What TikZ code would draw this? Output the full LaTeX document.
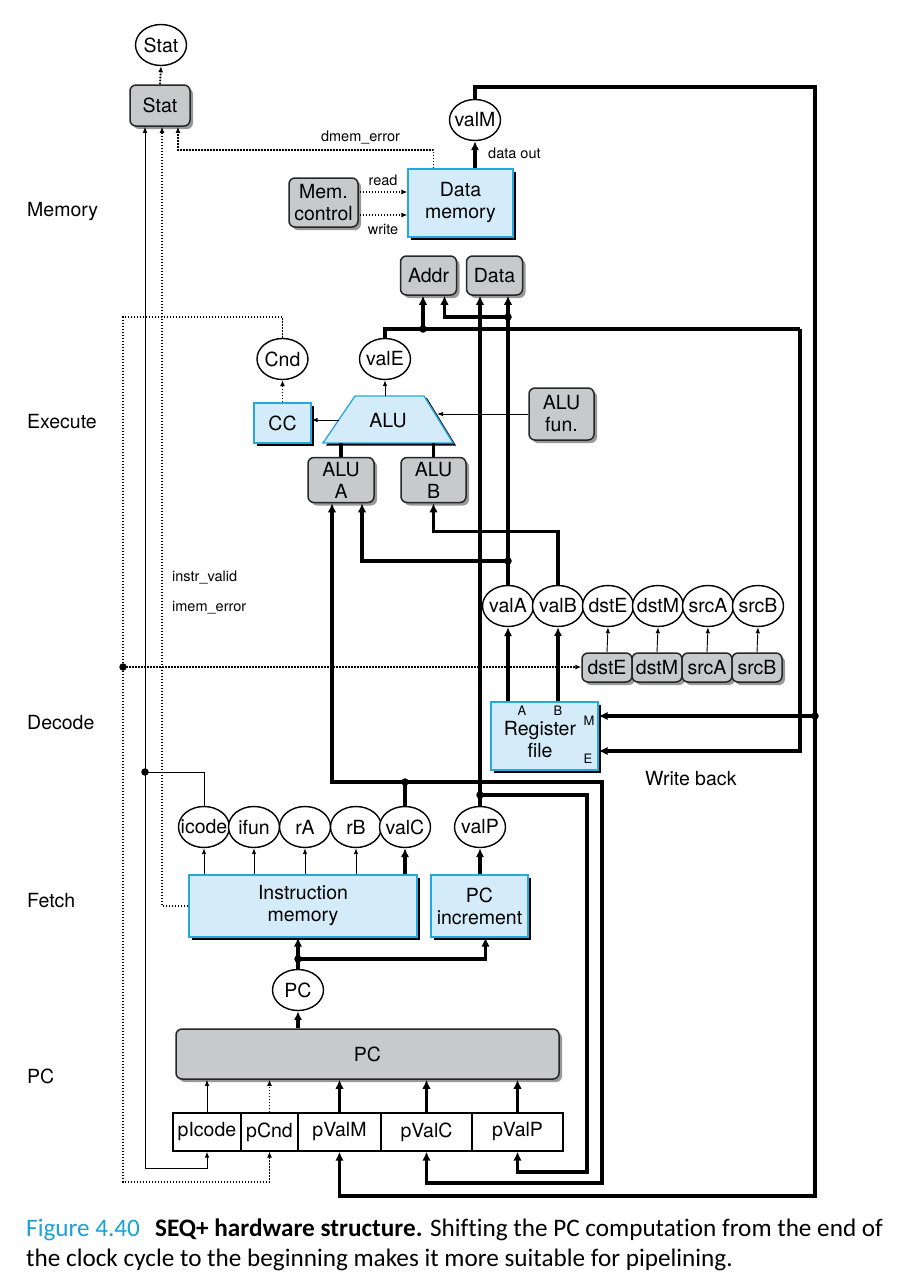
\documentclass[tikz,border=0pt]{standalone}
\usepackage{fontspec}
\setmainfont{TeX Gyre Heros}
\newfontfamily\capfont[Ligatures=NoCommon]{Carlito}
\usetikzlibrary{arrows.meta,shapes.geometric,shadows,calc}
\definecolor{grayfill}{HTML}{C8C9CB}
\definecolor{bluefill}{HTML}{D4ECF9}
\definecolor{cyanb}{HTML}{25A8E0}
\definecolor{capcyan}{HTML}{1BA0DA}
\newcommand\dgfont{\fontsize{19.5}{22}\selectfont}
\newcommand\lblfont{\fontsize{14.5}{16}\selectfont}
\newcommand\portfont{\fontsize{13}{14}\selectfont}
\begin{document}
\begin{tikzpicture}[x=1pt,y=-1pt,
  thk/.style={line width=3.3pt},
  thkA/.style={line width=3.3pt,-{Latex[length=9pt,width=8.5pt]}},
  thn/.style={line width=0.9pt},
  thnA/.style={line width=0.9pt,-{Latex[length=6pt,width=4.5pt]}},
  dtl/.style={line width=1.9pt,dash pattern=on 1.7pt off 1.3pt},
  dtlA/.style={dtl,-{Latex[length=6pt,width=5pt]}},
  jdot/.style={circle,fill=black,inner sep=0pt,minimum size=7.5pt},
  sig/.style={ellipse,draw,line width=1.4pt,fill=white,minimum width=51pt,minimum height=41pt,inner sep=0pt,font=\dgfont},
  gbox/.style={draw=black!85,line width=1.5pt,fill=grayfill,rounded corners=6pt,align=center,inner sep=0pt,font=\dgfont,general shadow={fill=black!40,shadow xshift=3pt,shadow yshift=-3pt}},
  bbox/.style={draw=cyanb,line width=1.3pt,fill=bluefill,align=center,inner sep=0pt,font=\dgfont,general shadow={fill=black,shadow xshift=3pt,shadow yshift=-3pt}},
  wbox/.style={draw,line width=1.3pt,fill=white,inner sep=0pt,minimum height=38pt,font=\dgfont},
  stage/.style={anchor=west,inner sep=0pt,font=\dgfont},
  lbl/.style={inner sep=0pt,font=\lblfont},
  capt/.style={anchor=base west,inner sep=0pt,font=\capfont\fontsize{25.2}{30}\selectfont},
]
\useasboundingbox[fill=white] (0,0) rectangle (914,1280);

% stage labels
\node[stage] (lmem) at (27,212) {Memory};
\node[stage] (lexe) at (27,422) {Execute};
\node[stage] (ldec) at (27,723) {Decode};
\node[stage] (lfet) at (27,901) {Fetch};
\node[stage] (lpc) at (27,1076) {PC};

% ---------- nodes ----------
\node[sig] (statE) at (161,45) {\makebox[0pt]{Stat}};
\node[gbox,minimum width=60pt,minimum height=41pt] (statB) at (160,105.5) {Stat};
\node[gbox,minimum width=69pt,minimum height=49pt] (memc) at (323.5,202.5) {Mem.\\control};
\node[bbox,minimum width=105pt,minimum height=68pt] (dm) at (460.5,203) {Data\\memory};
\node[sig] (valM) at (475,120) {\makebox[0pt]{valM}};
\node[gbox,minimum width=56pt,minimum height=39pt] (addr) at (428.5,275.5) {Addr};
\node[gbox,minimum width=56pt,minimum height=39pt] (datab) at (494.5,275.5) {Data};
\node[sig] (cnd) at (282.5,359) {\makebox[0pt]{Cnd}};
\node[sig] (valE) at (385,359) {\makebox[0pt]{valE}};
\node[bbox,minimum width=57pt,minimum height=40pt] (cc) at (282.5,423) {CC};

% ALU
\fill[black] (358,398) -- (427,398) -- (456,445.5) -- (326,445.5) -- cycle;
\filldraw[fill=bluefill,draw=cyanb,line width=1.3pt] (355,396) -- (424,396) -- (453,443) -- (323,443) -- cycle;
\node[font=\dgfont,inner sep=0pt] (alu) at (388,421) {ALU};
\coordinate (aluT) at (386,396);
\coordinate (aluL) at (339,420);
\coordinate (aluR) at (437,414);
\coordinate (aluB) at (388,443);

\node[gbox,minimum width=65pt,minimum height=52pt] (alufun) at (561.5,414) {ALU\\fun.};
\node[gbox,minimum width=66pt,minimum height=45pt] (alua) at (341,480) {ALU\\A};
\node[gbox,minimum width=65pt,minimum height=45pt] (alub) at (433.5,480) {ALU\\B};

% decode row
\node[sig] (valA) at (508,606) {\makebox[0pt]{valA}};
\node[sig] (valB) at (558,606) {\makebox[0pt]{valB}};
\node[sig] (dstE) at (608,606) {\makebox[0pt]{dstE}};
\node[sig] (dstM) at (658,606) {\makebox[0pt]{dstM}};
\node[sig] (srcA) at (708,606) {\makebox[0pt]{srcA}};
\node[sig] (srcB) at (758,606) {\makebox[0pt]{srcB}};
\node[gbox,minimum width=50pt,minimum height=29pt] (dstE-b) at (607,667.5) {dstE};
\node[gbox,minimum width=50pt,minimum height=29pt] (dstM-b) at (657,667.5) {dstM};
\node[gbox,minimum width=50pt,minimum height=29pt] (srcA-b) at (707,667.5) {srcA};
\node[gbox,minimum width=50pt,minimum height=29pt] (srcB-b) at (757,667.5) {srcB};

\node[bbox,minimum width=107pt,minimum height=68pt] (rf) at (544.5,736) {};
\node[font=\dgfont,align=center,inner sep=0pt] (rftxt) at (540,740) {Register\\file};
\node[font=\portfont,inner sep=0pt] (rfA) at (522,711) {A};
\node[font=\portfont,inner sep=0pt] (rfB) at (558,711) {B};
\node[font=\portfont,inner sep=0pt] (rfM) at (589,721) {M};
\node[font=\portfont,inner sep=0pt] (rfE) at (588,759) {E};

% fetch row
\node[sig] (icode) at (204,827) {\makebox[0pt]{icode}};
\node[sig] (ifun) at (254,827) {\makebox[0pt]{ifun}};
\node[sig] (rA) at (305,827) {\makebox[0pt]{rA}};
\node[sig] (rB) at (356,827) {\makebox[0pt]{rB}};
\node[sig] (valC) at (405,827) {\makebox[0pt]{valC}};
\node[sig] (valP) at (480,827) {\makebox[0pt]{valP}};
\node[bbox,minimum width=228pt,minimum height=62pt] (im) at (303,906) {Instruction\\memory};
\node[bbox,minimum width=97pt,minimum height=62pt] (pcinc) at (479.5,906) {PC\\increment};

% PC
\node[sig] (pcE) at (298,990) {\makebox[0pt]{PC}};
\node[gbox,minimum width=383pt,minimum height=50pt] (pcbox) at (367.5,1054) {PC};
\node[wbox,minimum width=68pt] (pIcode) at (207,1132) {pIcode};
\node[wbox,minimum width=57pt] (pCnd) at (269.5,1132) {pCnd};
\node[wbox,minimum width=83pt] (pValM) at (339.5,1132) {pValM};
\node[wbox,minimum width=91pt] (pValC) at (426.5,1132) {pValC};
\node[wbox,minimum width=91pt] (pValP) at (517.5,1132) {pValP};

% labels
\node[lbl] (ldm) at (360.5,137) {dmem\_error};
\node[lbl] (lrd) at (383,180) {read};
\node[lbl] (lwr) at (383,229) {write};
\node[lbl,anchor=west] (ldo) at (488,153) {data out};
\node[lbl,anchor=west] (liv) at (172,577) {instr\_valid};
\node[lbl,anchor=west] (lie) at (172,608) {imem\_error};
\node[stage] (wb) at (645,779) {Write back};

% ---------- connectors ----------
% Stat inputs
\coordinate (s1) at ($(statB.south)+(-15,0)$);
\coordinate (s2) at ($(statB.south)+(2,0)$);
\coordinate (s3) at ($(statB.south)+(18,0)$);
\coordinate (jI) at (145,772);
\coordinate (jIb) at (145,1168);
\draw[dtlA] (statB.north) -- (statE.south);
\draw[thn] (icode.north) |- (jI);
\draw[thnA] (jI) -- (s1);
\draw[thnA] (jI) -- (jIb) -| (pIcode.south);
\draw[dtlA] (im.west) -| (s2);
\coordinate (dmE) at ($(dm.north)+(-27,0)$);
\draw[dtlA] (dmE) -- ++(0,-18) -| (s3);

% memory control
\coordinate (rdS) at ($(memc.east)+(1,-10.5)$);
\coordinate (wrS) at ($(memc.east)+(1,12.5)$);
\draw[dtlA] (rdS) -- (rdS -| dm.west);
\draw[dtlA] (wrS) -- (wrS -| dm.west);

% valM
\coordinate (tR) at (815,87);
\coordinate (bR) at (815,1196);
\coordinate (jM) at (815,716);
\draw[thkA] (dm.north -| valM) -- (valM.south);
\draw[thkA] (valM.north) |- (tR) -- (bR) -| (pValM.south);
\draw[thkA] (jM) -- (jM -| rf.east);

% Cnd
\coordinate (cT) at (123,317);
\coordinate (cB) at (123,1182);
\coordinate (jC) at (123,667);
\draw[dtlA] (cc.north) -- (cnd.south);
\draw[dtlA] (cnd.north) |- (cT) -- (cB) -| (pCnd.south);
\draw[dtlA] (jC) -- (jC -| dstE-b.west);

% ALU
\draw[thnA] (valE.south |- aluT) -- (valE.south);
\draw[thnA] (aluL) -- (aluL -| cc.east);
\draw[thnA] (alufun.west |- aluR) -- (aluR);
\draw[thk] (alua.north) -- (alua.north |- aluB);
\draw[thk] (alub.north) -- (alub.north |- aluB);

% valE bus
\coordinate (eR) at (800,329);
\coordinate (jE) at (423,329);
\draw[thk] (valE.north) |- (eR);
\draw[thkA] (eR) |- ($(rf.east)+(0,15)$);
\draw[thkA] (jE) -- (jE |- addr.south);

% valA / valB
\draw[thkA] (rf.north -| valA) -- (valA.south);
\draw[thkA] (rf.north -| valB) -- (valB.south);
\coordinate (jA1) at (508,561);
\coordinate (jA2) at (508,317);
\coordinate (aA1) at ($(alua.south)+(-9,0)$);
\coordinate (aA2) at ($(alua.south)+(21,0)$);
\coordinate (aD2) at ($(addr.south)+(16,0)$);
\draw[thkA] (valA.north) -- (valA.north |- datab.south);
\draw[thkA] (jA1) -| (aA2);
\draw[thkA] (jA2) -| (aD2);
\draw[thkA] (valB.north) -- ++(0,-53) -| (alub.south);

% dst/src
\foreach \n in {dstE,dstM,srcA,srcB} \draw[thnA] (\n-b.north) -- (\n.south);

% fetch
\foreach \n in {icode,ifun,rA,rB} \draw[thnA] (im.north -| \n) -- (\n.south);
\draw[thkA] (im.north -| valC) -- (valC.south);
\coordinate (jCv) at (405,782);
\coordinate (cR) at (602,782);
\coordinate (cBt) at (602,1183);
\draw[thk] (valC.north) -- (jCv);
\draw[thkA] (jCv) -| (aA1);
\draw[thkA] (jCv) -- (cR) -- (cBt) -| (pValC.south);

\draw[thkA] (pcinc.north -| valP) -- (valP.south);
\coordinate (jP) at (480,795);
\coordinate (pR) at (587,795);
\coordinate (pBt) at (587,1172);
\draw[thk] (valP.north) -- (jP);
\draw[thkA] (jP) -- (jP |- datab.south);
\draw[thkA] (jP) -- (pR) -- (pBt) -| (pValP.south);

% PC
\draw[thkA] (pcbox.north -| pcE) -- (pcE.south);
\coordinate (jPC) at (298,959);
\draw[thk] (pcE.north) -- (jPC);
\draw[thkA] (jPC) -- (jPC |- im.south);
\draw[thkA] (jPC) -| ($(pcinc.south)+(6,0)$);

\draw[thnA] (pIcode.north) -- (pIcode.north |- pcbox.south);
\draw[dtlA] (pCnd.north) -- (pCnd.north |- pcbox.south);
\draw[thkA] (pValM.north) -- (pValM.north |- pcbox.south);
\draw[thkA] (pValC.north) -- (pValC.north |- pcbox.south);
\draw[thkA] (pValP.north) -- (pValP.north |- pcbox.south);

% junction dots
\foreach \c in {jI,jC,jM,jE,jA1,jA2,jCv,jP,jPC} \node[jdot] (d\c) at (\c) {};

% caption
\node[capt] (cap1) at (26,1236)
  {\textcolor{capcyan}{Figure 4.40}\hspace{0.6em}\textbf{SEQ+ hardware structure.} Shifting the PC computation from the end of};
\node[capt] (cap2) at (26,1266)
  {the clock cycle to the beginning makes it more suitable for pipelining.};
\end{tikzpicture}
\end{document}
